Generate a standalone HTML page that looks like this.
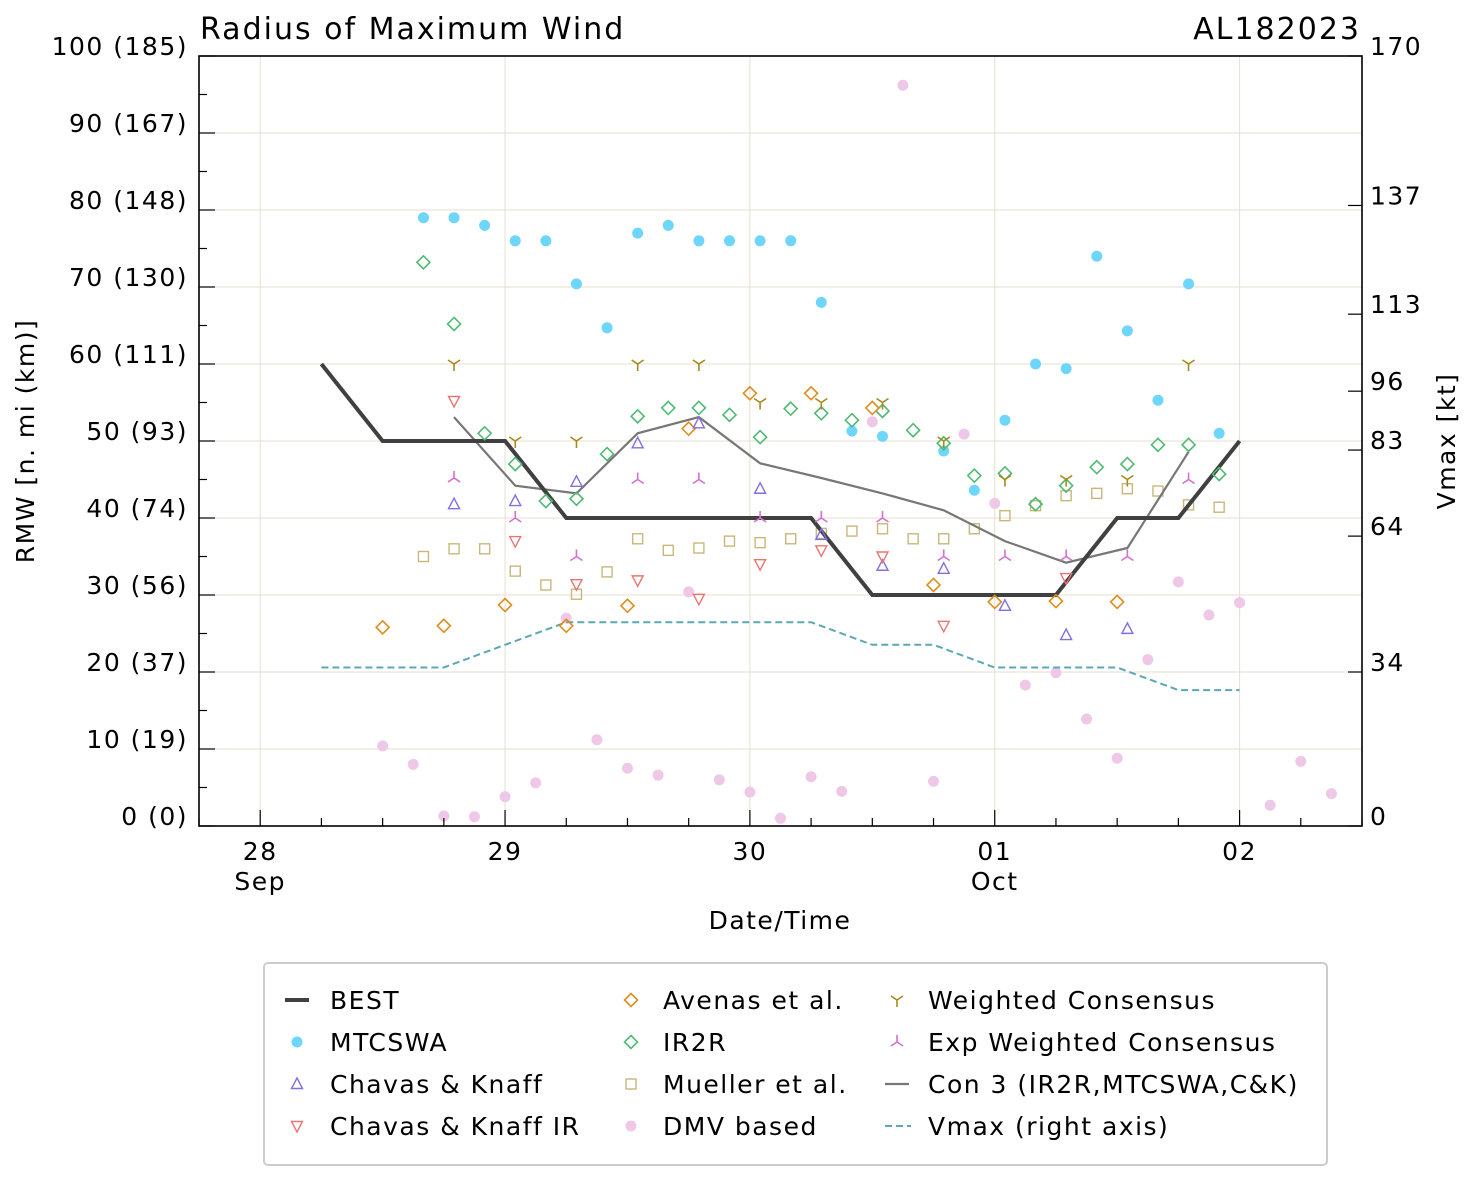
<!DOCTYPE html>
<html><head><meta charset="utf-8"><style>
html,body{margin:0;padding:0;background:#fff;}
svg text{font-family:"DejaVu Sans","Liberation Sans",sans-serif;fill:#000;letter-spacing:1.5px;}
svg text.title{letter-spacing:2px;}
</style></head><body>
<svg id="chart" xmlns="http://www.w3.org/2000/svg" width="1477" height="1180" viewBox="0 0 1477 1180">
<rect width="1477" height="1180" fill="#fff"/>
<g id="grid"></g>
<g id="series"></g>
<g id="axes"></g>
<g id="legend"></g>
</svg>
<script>
// ---- data (hours since 28 Sep 00Z) ----
const dayLabels = ["28","29","30","01","02"];
const monthLabels = ["Sep","","","Oct",""];
const yTicks = [0,10,20,30,40,50,60,70,80,90,100];
const yTickLabels = ["0 (0)","10 (19)","20 (37)","30 (56)","40 (74)","50 (93)","60 (111)","70 (130)","80 (148)","90 (167)","100 (185)"];
const vTicks = [0,34,64,83,96,113,137,170];

const bestHours = [6,12,18,24,30,36,42,48,54,60,66,72,78,84,90,96];
const bestRmw = [60,50,50,50,40,40,40,40,40,30,30,30,30,40,40,50];

const vmaxHours = [6,12,18,24,30,36,42,48,54,60,66,72,78,84,90,96];
const vmaxKt = [35,35,35,40,45,45,45,45,45,40,40,35,35,35,30,30];

const mtcHours = [16,19,22,25,28,31,34,37,40,43,46,49,52,55,58,61,67,70,73,76,79,82,85,88,91,94];
const mtcRmw = [79,79,78,76,76,70.4,64.7,77,78,76,76,76,76,68,51.3,50.6,48.7,43.6,52.7,60,59.4,74,64.3,55.3,70.4,51];

const ir2rHours = [16,19,22,25,28,31,34,37,40,43,46,49,52,55,58,61,64,67,70,73,76,79,82,85,88,91,94];
const ir2rRmw = [73.2,65.2,51,47,42.2,42.5,48.3,53.2,54.3,54.3,53.4,50.5,54.2,53.6,52.7,53.9,51.4,49.7,45.5,45.8,41.8,44.2,46.6,47,49.5,49.5,45.7];

const avenasHours = [12,18,24,30,36,42,48,54,60,66,72,78,84];
const avenasRmw = [25.8,26,28.7,26,28.6,51.6,56.2,56.2,54.3,31.3,29.1,29.2,29.1];

const consHours = [19,25,31,37,43,49,55,61,67,73,79,85,91];
const wcRmw = [60,50,50,60,60,55,55,55,50,45,45,45,60];
const ewcRmw = [45.2,40,35,45,45,40,40,40,35,35,35,35,45];
const con3Rmw = [53.1,44.2,43.2,51,53.1,47.1,45.2,43.2,41,37,34.2,36.1,48.6];

const ckHours = [19,25,31,37,43,49,55,61,67,73,79,85];
const ckRmw = [41.8,42.2,44.7,49.7,52.3,43.8,37.8,33.8,33.4,28.6,24.8,25.6];

const ckirHours = [19,25,31,37,43,49,55,61,67,79];
const ckirRmw = [55.2,37,31.4,31.9,29.5,34,35.8,35,26,32.2];

const muHours = [16,19,22,25,28,31,34,37,40,43,46,49,52,55,58,61,64,67,70,73,76,79,82,85,88,91,94];
const muRmw = [35,36,36,33.1,31.3,30.1,33,37.3,35.8,36.1,37,36.8,37.3,38,38.3,38.6,37.3,37.3,38.6,40.3,41.6,42.9,43.2,43.8,43.5,41.7,41.4];

const dmvStart = 12;
const dmvRmw = [10.4,8,1.3,1.2,3.8,5.6,27,11.2,7.5,6.6,30.4,6,4.4,1,6.4,4.5,52.5,96.2,5.8,50.9,41.9,18.3,19.9,13.9,8.8,21.6,31.7,27.4,29,2.7,8.4,4.2];

// ---- geometry ----
const L=199,R=1362,T=56,B=826;
const X = h => L + (h/24 + 0.25) * (R-L)/4.75;
const Y = v => B - v*(B-T)/100;
const YV = v => B - v*(B-T)/170;
const NS="http://www.w3.org/2000/svg";
function mk(tag, attrs, parent){const e=document.createElementNS(NS,tag);for(const k in attrs)e.setAttribute(k,attrs[k]);parent.appendChild(e);return e;}
const grid=document.getElementById('grid'), ser=document.getElementById('series'), ax=document.getElementById('axes'), leg=document.getElementById('legend');
const gridC="#e6dfd0";
const FS=25;

// grid
dayLabels.forEach((d,i)=>{const l=mk('line',{x1:X(i*24),x2:X(i*24),y1:T,y2:B,stroke:gridC,'stroke-width':1},grid);

});
yTicks.forEach(v=>{const l=mk('line',{x1:L,x2:R,y1:Y(v),y2:Y(v),stroke:gridC,'stroke-width':1},grid);

});

function marker(type,x,y,color,parent){
  let e;
  if(type==='circle'){e=mk('circle',{cx:x,cy:y,r:5.5,fill:color},parent);}
  else if(type==='diamond'){e=mk('path',{d:`M${x},${y-6.5}L${x+6.5},${y}L${x},${y+6.5}L${x-6.5},${y}Z`,fill:'none',stroke:color,'stroke-width':1.6},parent);}
  else if(type==='square'){e=mk('rect',{x:x-5,y:y-5,width:10,height:10,fill:'none',stroke:color,'stroke-width':1.4},parent);}
  else if(type==='tri-up'){e=mk('path',{d:`M${x},${y-6}L${x+5.5},${y+4.5}L${x-5.5},${y+4.5}Z`,fill:'none',stroke:color,'stroke-width':1.4},parent);}
  else if(type==='tri-down'){e=mk('path',{d:`M${x},${y+6}L${x+5.5},${y-4.5}L${x-5.5},${y-4.5}Z`,fill:'none',stroke:color,'stroke-width':1.4},parent);}
  else if(type==='y-down'){e=mk('path',{d:`M${x},${y}L${x},${y+7}M${x},${y}L${x-6},${y-4}M${x},${y}L${x+6},${y-4}`,fill:'none',stroke:color,'stroke-width':1.6},parent);}
  else if(type==='y-up'){e=mk('path',{d:`M${x},${y}L${x},${y-7}M${x},${y}L${x-6},${y+4}M${x},${y}L${x+6},${y+4}`,fill:'none',stroke:color,'stroke-width':1.6},parent);}
  return e;
}
function scatter(hours,vals,type,color,name){
  const g=mk('g',{},ser);
  
  
  hours.forEach((h,i)=>{const e=marker(type,X(h),Y(vals[i]),color,g);
    
    });
}
function line(hours,vals,yf,color,w,dash,name){
  const pts=hours.map((h,i)=>X(h).toFixed(1)+','+yf(vals[i]).toFixed(1)).join(' ');
  const e=mk('polyline',{points:pts,fill:'none',stroke:color,'stroke-width':w},ser);
  if(dash)e.setAttribute('stroke-dasharray',dash);
  
  
}

const cMT="#6fd6fb",cIR="#4fba74",cAV="#e08c1a",cWC="#a68a1a",cEW="#d570d0",cCK="#8070e0",cCKIR="#ec7373",cMU="#c9b77a",cDMV="#eec8e6",cCON="#777",cV="#5aa8b4";

const dmvHours = dmvRmw.map((v,i)=>dmvStart+3*i);
scatter(dmvHours,dmvRmw,'circle',cDMV,'dmv');
scatter(muHours,muRmw,'square',cMU,'mueller');
line(vmaxHours,vmaxKt,YV,cV,2,'7,4','vmax-line');
line(consHours,con3Rmw,Y,cCON,2.2,null,'con3-line');
line(bestHours,bestRmw,Y,'#404040',4,null,'best-track-line');
scatter(mtcHours,mtcRmw,'circle',cMT,'mtcswa');
scatter(ir2rHours,ir2rRmw,'diamond',cIR,'ir2r');
scatter(avenasHours,avenasRmw,'diamond',cAV,'avenas');
scatter(ckHours,ckRmw,'tri-up',cCK,'chavas-knaff');
scatter(ckirHours,ckirRmw,'tri-down',cCKIR,'chavas-knaff-ir');
scatter(consHours,wcRmw,'y-down',cWC,'weighted-consensus');
scatter(consHours,ewcRmw,'y-up',cEW,'exp-weighted-consensus');

let fr=mk('rect',{x:L,y:T,width:R-L,height:B-T,fill:'none',stroke:'#000','stroke-width':1.6},ax);


for(let v=0;v<=100;v+=5){const major=v%10===0;mk('line',{x1:L,x2:L+(major?16:8),y1:Y(v),y2:Y(v),stroke:'#000','stroke-width':1.2},ax);}
yTicks.forEach((v,i)=>{const t=mk('text',{x:188,y:Y(v)-1,'text-anchor':'end','font-size':FS},ax);t.textContent=yTickLabels[i];

});
vTicks.forEach(v=>{mk('line',{x1:R-14,x2:R,y1:YV(v),y2:YV(v),stroke:'#000','stroke-width':1.2},ax);
const t=mk('text',{x:1370,y:YV(v)-1,'font-size':FS},ax);t.textContent=v;

});
for(let h=-6;h<=108;h+=6){const major=h%24===0;mk('line',{x1:X(h),x2:X(h),y1:B,y2:B-(major?16:8),stroke:'#000','stroke-width':1.2},ax);}
dayLabels.forEach((d,i)=>{const t=mk('text',{x:X(i*24),y:860,'text-anchor':'middle','font-size':FS},ax);t.textContent=d;


if(monthLabels[i]){const m=mk('text',{x:X(i*24),y:890,'text-anchor':'middle','font-size':FS},ax);m.textContent=monthLabels[i];

}});
function txt(s,attrs,name){const t=mk('text',attrs,ax);t.textContent=s;

return t;}
txt('Date/Time',{x:780,y:929,'text-anchor':'middle','font-size':FS},'x-axis-title');
txt('RMW [n. mi (km)]',{x:0,y:0,'text-anchor':'middle','font-size':FS,transform:'translate(34,441) rotate(-90)'},'y-axis-title');
txt('Vmax [kt]',{x:0,y:0,'text-anchor':'middle','font-size':FS,transform:'translate(1455,441) rotate(-90)'},'vmax-axis-title');
txt('Radius of Maximum Wind',{x:200,y:39,'font-size':30,'class':'title'},'chart-title');
txt('AL182023',{x:1361,y:39,'text-anchor':'end','font-size':30,'class':'title'},'storm-id');

const lb=mk('rect',{x:264,y:963,width:1063,height:202,rx:4,fill:'#fff',stroke:'#ccc','stroke-width':2},leg);


const legNames=["BEST","MTCSWA","Chavas & Knaff","Chavas & Knaff IR","Avenas et al.","IR2R","Mueller et al.","DMV based","Weighted Consensus","Exp Weighted Consensus","Con 3 (IR2R,MTCSWA,C&K)","Vmax (right axis)"];
const legTypes=["best","circle","tri-up","tri-down","diamond","diamond","square","circle","y-down","y-up","con","vmax"];
const legColors=["#404040",cMT,cCK,cCKIR,cAV,cIR,cMU,cDMV,cWC,cEW,cCON,cV];
const colX=[[297,330],[631,663],[897,928]], rowY=[1000,1042,1084,1126];
legNames.forEach((n,i)=>{
  const c=Math.floor(i/4), r=i%4, mx=colX[c][0], y=rowY[r];
  const g=mk('g',{},leg);
  
  
  const t=legTypes[i];
  if(t==='best') mk('line',{x1:mx-12,x2:mx+12,y1:y,y2:y,stroke:legColors[i],'stroke-width':4},g);
  else if(t==='con') mk('line',{x1:mx-12,x2:mx+12,y1:y,y2:y,stroke:legColors[i],'stroke-width':2.2},g);
  else if(t==='vmax') mk('line',{x1:mx-12,x2:mx+14,y1:y,y2:y,stroke:legColors[i],'stroke-width':2,'stroke-dasharray':'7,4'},g);
  else marker(t,mx,y,legColors[i],g);
  const tx=mk('text',{x:colX[c][1],y:y+9,'font-size':FS},g);tx.textContent=n;
});
</script>
</body></html>
